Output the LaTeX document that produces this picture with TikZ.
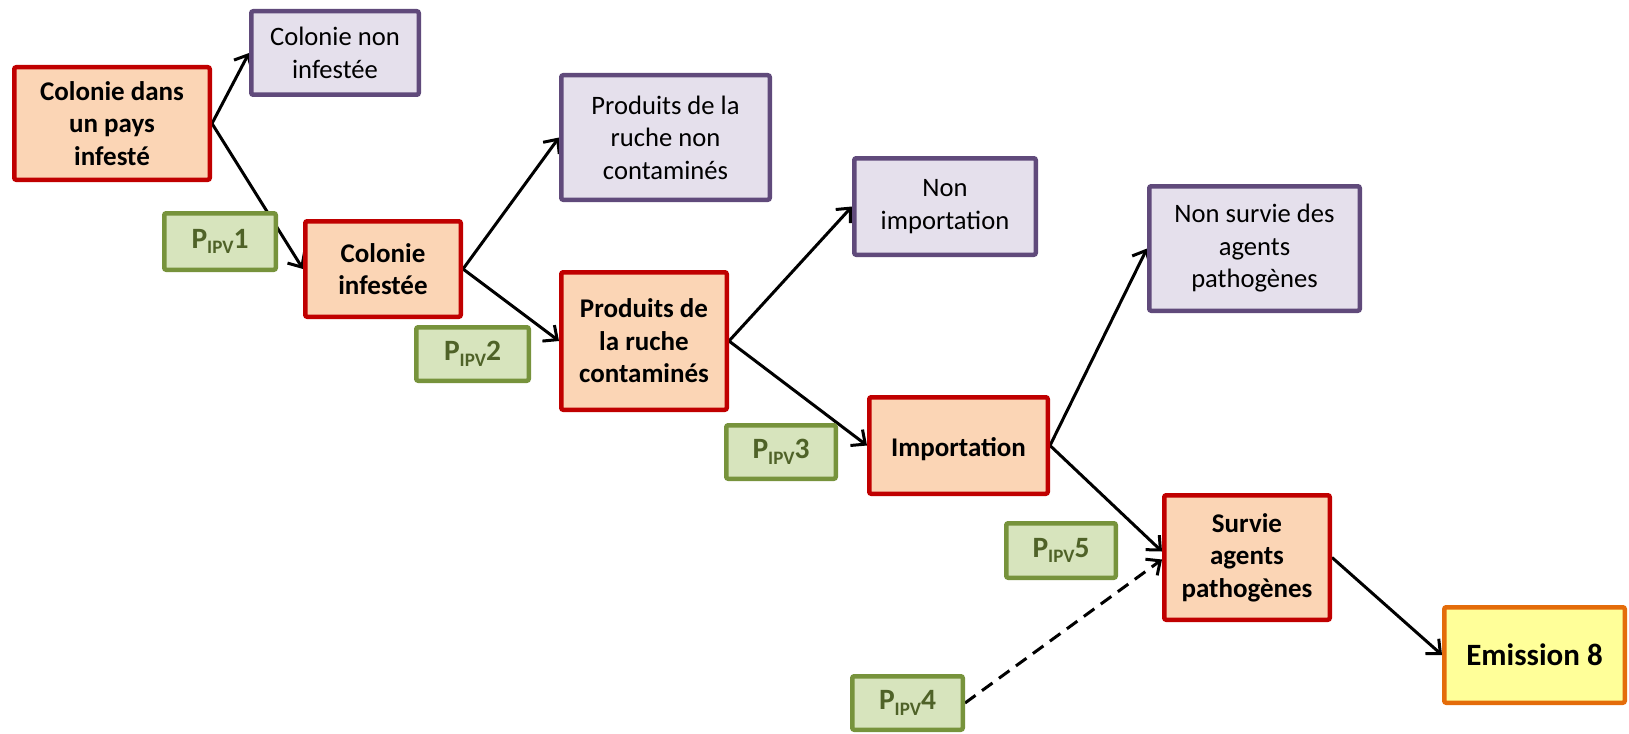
\documentclass[tikz,border=0pt]{standalone}
\usepackage{fontspec}
\setmainfont{Carlito}
\usetikzlibrary{arrows.meta}
\pgfdeclarelayer{bg}
\pgfsetlayers{bg,main}
\definecolor{redb}{HTML}{C00000}
\definecolor{orfill}{HTML}{FBD5B5}
\definecolor{purb}{HTML}{604A7B}
\definecolor{purfill}{HTML}{E5E0EC}
\definecolor{grb}{HTML}{77933C}
\definecolor{grfill}{HTML}{D7E4BD}
\definecolor{grtext}{HTML}{4F6228}
\definecolor{emb}{HTML}{E46C0A}
\definecolor{emfill}{HTML}{FFFF99}
\newcommand\pipv[1]{P\raisebox{-5.5pt}{\fontsize{19}{19}\selectfont IPV}#1}
\begin{document}
\begin{tikzpicture}[x=1pt,y=-1pt,
  box/.style={draw, line width=4.5pt, rounded corners=2pt, align=center, inner sep=0pt},
  redbox/.style={box, draw=redb, fill=orfill, font=\fontsize{27}{32.5}\selectfont\bfseries},
  purbox/.style={box, draw=purb, fill=purfill, font=\fontsize{26.6}{32.5}\selectfont},
  grbox/.style={box, draw=grb, fill=grfill, text=grtext, font=\fontsize{29.5}{32}\selectfont\bfseries},
  embox/.style={box, draw=emb, fill=emfill, font=\fontsize{31}{34}\selectfont\bfseries},
  arr/.style={line width=3pt, -{Straight Barb[length=11pt,width=20pt]}},
]
\useasboundingbox (0,0) rectangle (1629,733);
\node[redbox, minimum width=195.5pt, minimum height=112.5pt] (A) at (112,123.5) {Colonie dans\\un pays\\infesté};
\node[purbox, minimum width=167.5pt, minimum height=83.5pt] (B) at (335,53) {Colonie non\\infestée};
\node[grbox, minimum width=111.5pt, minimum height=56.5pt] (P1) at (220,241.5) {\pipv{1}};
\node[redbox, minimum width=155.5pt, minimum height=95.5pt] (C) at (383,269) {Colonie\\infestée};
\node[purbox, minimum width=208.5pt, minimum height=124.5pt] (D) at (665.5,137.5) {Produits de la\\ruche non\\contaminés};
\node[grbox, minimum width=112.5pt, minimum height=53.5pt] (P2) at (472.5,354) {\pipv{2}};
\node[redbox, minimum width=165.5pt, minimum height=137.5pt] (E) at (644,341) {Produits de\\la ruche\\contaminés};
\node[purbox, minimum width=181.5pt, minimum height=96.5pt] (F) at (945,206.5) {Non\\importation};
\node[grbox, minimum width=109.5pt, minimum height=53.5pt] (P3) at (781,452) {\pipv{3}};
\node[redbox, minimum width=178.5pt, minimum height=96.5pt] (G) at (958.5,445.5) {\raisebox{-4pt}[\height][\depth]{Importation}};
\node[purbox, minimum width=210.5pt, minimum height=124.5pt] (H) at (1254.5,248.5) {Non survie des\\agents\\pathogènes};
\node[grbox, minimum width=109.5pt, minimum height=54.5pt] (P5) at (1061,550.5) {\pipv{5}};
\node[redbox, minimum width=165.5pt, minimum height=124.5pt] (I) at (1247,557.5) {Survie\\agents\\pathogènes};
\node[grbox, minimum width=110.5pt, minimum height=53.5pt] (P4) at (907.5,703) {\pipv{4}};
\node[embox, minimum width=180.5pt, minimum height=95.5pt] (J) at (1534.5,655) {Emission 8};
\begin{pgfonlayer}{bg}
\draw[arr] (A.east) -- (B.west);
\draw[arr] (A.east) -- (C.west);
\draw[arr] (C.east) -- (D.west);
\draw[arr] (C.east) -- (E.west);
\draw[arr] (E.east) -- (F.west);
\draw[arr] (E.east) -- (G.west);
\draw[arr] (G.east) -- (H.west);
\draw[arr] (G.east) -- ([yshift=6pt]I.west);
\draw[arr, dash pattern=on 13pt off 8pt] (P4.east) -- ([yshift=-2pt]I.west);
\draw[arr] (I.east) -- (J.west);
\end{pgfonlayer}
\end{tikzpicture}
\end{document}
